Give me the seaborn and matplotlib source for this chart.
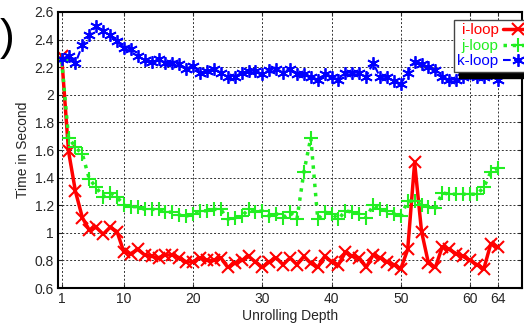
import numpy as np
import pandas as pd
import seaborn as sns
import matplotlib.pyplot as plt
from matplotlib.ticker import FormatStrFormatter

# unrolling depth 1..64
depth = list(range(1, 65))

i_loop = [2.28, 1.59, 1.30, 1.11, 1.02, 1.04, 0.99, 1.04, 1.01, 0.86,
          0.85, 0.88, 0.84, 0.83, 0.82, 0.84, 0.84, 0.82, 0.79, 0.79,
          0.82, 0.80, 0.80, 0.82, 0.75, 0.78, 0.80, 0.83, 0.79, 0.75,
          0.79, 0.82, 0.77, 0.82, 0.77, 0.83, 0.78, 0.75, 0.83, 0.79,
          0.77, 0.86, 0.83, 0.82, 0.75, 0.84, 0.82, 0.79, 0.77, 0.74,
          0.88, 1.51, 1.01, 0.78, 0.75, 0.90, 0.88, 0.85, 0.83, 0.80,
          0.77, 0.74, 0.92, 0.90]

j_loop = [2.25, 1.69, 1.62, 1.57, 1.39, 1.33, 1.26, 1.29, 1.26, 1.20,
          1.19, 1.19, 1.17, 1.17, 1.17, 1.15, 1.15, 1.13, 1.12, 1.14,
          1.16, 1.16, 1.17, 1.17, 1.10, 1.11, 1.12, 1.17, 1.15, 1.16,
          1.12, 1.14, 1.11, 1.15, 1.10, 1.44, 1.69, 1.10, 1.15, 1.14,
          1.10, 1.16, 1.15, 1.14, 1.11, 1.20, 1.17, 1.16, 1.14, 1.12,
          1.23, 1.23, 1.20, 1.19, 1.18, 1.29, 1.28, 1.28, 1.28, 1.28,
          1.28, 1.33, 1.44, 1.47]

k_loop = [2.26, 2.28, 2.23, 2.36, 2.43, 2.50, 2.46, 2.43, 2.39, 2.34,
          2.33, 2.28, 2.25, 2.24, 2.26, 2.23, 2.23, 2.22, 2.19, 2.21,
          2.16, 2.17, 2.19, 2.16, 2.13, 2.13, 2.16, 2.17, 2.17, 2.15,
          2.18, 2.19, 2.16, 2.19, 2.15, 2.15, 2.13, 2.11, 2.15, 2.13,
          2.11, 2.16, 2.16, 2.16, 2.13, 2.23, 2.13, 2.13, 2.10, 2.08,
          2.16, 2.24, 2.22, 2.20, 2.18, 2.13, 2.11, 2.11, 2.13, 2.16,
          2.13, 2.13, 2.16, 2.11]

loops = ['i-loop', 'j-loop', 'k-loop']
colors = {'i-loop': '#ff0000', 'j-loop': '#22ee22', 'k-loop': '#0000ff'}
x_ticks = [1, 10, 20, 30, 40, 50, 60, 64]
y_ticks = [0.6, 0.8, 1.0, 1.2, 1.4, 1.6, 1.8, 2.0, 2.2, 2.4, 2.6]

df = pd.DataFrame({
    'depth': depth * 3,
    'time': i_loop + j_loop + k_loop,
    'loop': [l for l in loops for _ in depth],
})

sns.set_style("ticks")
plt.rcParams['font.family'] = ['Liberation Sans', 'DejaVu Sans']

fig = plt.figure(figsize=(5.24, 3.23), dpi=100)
ax = fig.add_axes([0.111, 0.108, 0.885, 0.855])

styles = {
    'i-loop': dict(ls='-', lw=2.5, marker='x', ms=8, mew=1.5),
    'j-loop': dict(ls=':', lw=2.5, marker='+', ms=10, mew=1.5),
    'k-loop': dict(ls='--', lw=1.5, marker=(6, 2, 0), ms=9, mew=1.3),
}
for name in loops:
    st = styles[name]
    sns.lineplot(data=df[df['loop'] == name], x='depth', y='time', ax=ax,
                 color=colors[name], label=name, estimator=None, sort=False)
    line = ax.get_lines()[-1]
    line.set_linestyle(st['ls'])
    line.set_linewidth(st['lw'])
    line.set_marker(st['marker'])
    line.set_markersize(st['ms'])
    line.set_markeredgewidth(st['mew'])
    line.set_markeredgecolor(colors[name])

ax.set_xlim(0.5, 67.5)
ax.set_ylim(0.6, 2.6)
ax.set_xticks(x_ticks)
ax.set_yticks(y_ticks)
ax.yaxis.set_major_formatter(FormatStrFormatter('%g'))
ax.tick_params(direction='in', length=3, labelsize=10, top=True, right=True, pad=3)
ax.grid(True, color='#333333', linestyle=(0, (2, 2)), linewidth=0.7)
for s in ax.spines.values():
    s.set_linewidth(1.5)
    s.set_color('black')

ax.set_xlabel('Unrolling Depth', fontsize=10, labelpad=2)
ax.set_ylabel('Time in Second', fontsize=10, labelpad=3)

handles = ax.get_lines()[:3]
leg = ax.legend(handles, loops, loc='upper right', bbox_to_anchor=(1.05, 1.0),
                markerfirst=False, fontsize=11, fancybox=False, framealpha=1,
                edgecolor='#444444', handlelength=2.0, borderpad=0.25,
                labelspacing=0.1, handletextpad=0.3,
                shadow={'color': 'black', 'alpha': 1, 'ox': 4, 'oy': -4})
for txt, name in zip(leg.get_texts(), loops):
    txt.set_color(colors[name])

fig.text(0.0, 0.88, ')', fontsize=32, color='black', ha='left', va='center')

fig.savefig('out.png', dpi=100)
